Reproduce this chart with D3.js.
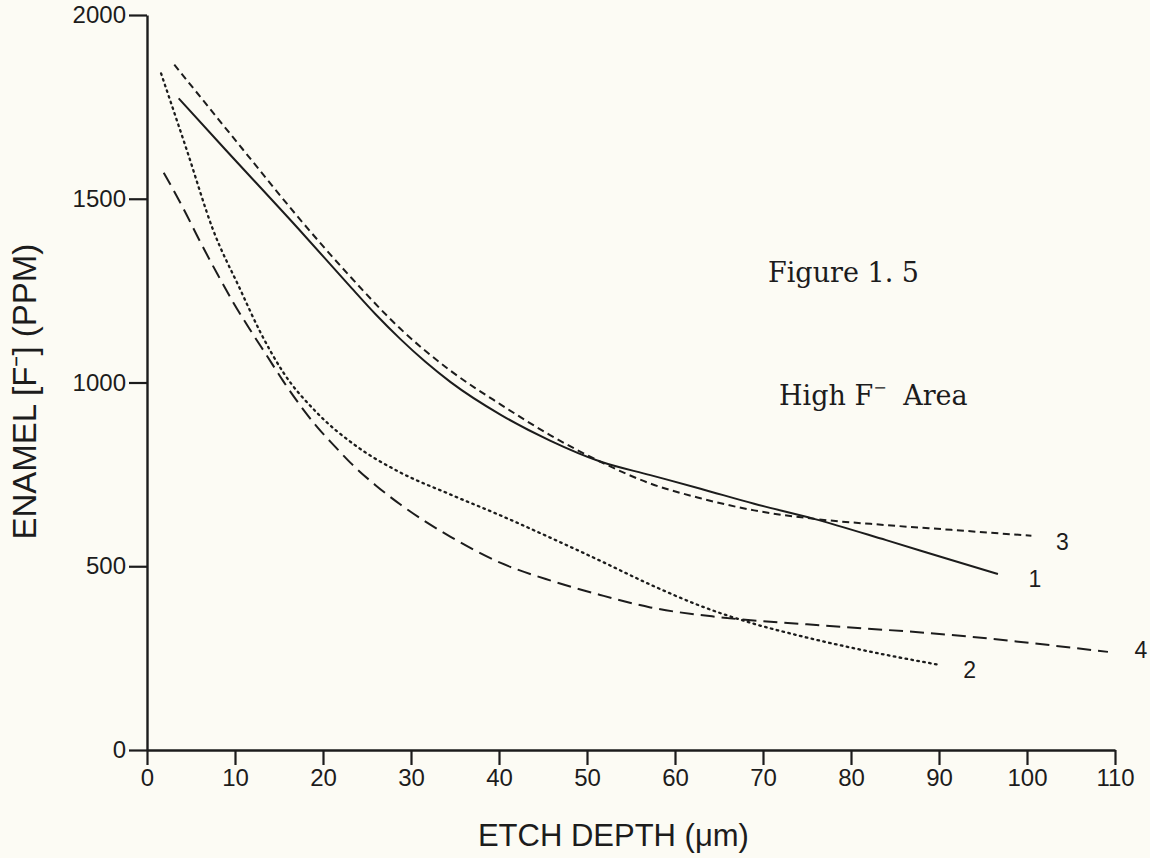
<!DOCTYPE html>
<html>
<head>
<meta charset="utf-8">
<script src="https://cdn.jsdelivr.net/npm/d3@7/dist/d3.min.js"></script>
<style>
  html, body { margin: 0; padding: 0; background: #fcfbf4; }
  svg { display: block; }
</style>
</head>
<body>
<svg id="chart" width="1150" height="858"></svg>
<script>
// ---- Data ----
const xTicks = [0, 10, 20, 30, 40, 50, 60, 70, 80, 90, 100, 110];
const yTicks = [0, 500, 1000, 1500, 2000];

// Curve 1 (solid)
const curve1 = [
  [3.6, 1773], [8.9, 1634], [17.1, 1421], [23.1, 1261], [26, 1185],
  [28.8, 1118], [31.6, 1057], [34.5, 1001], [40.2, 912], [45.8, 842],
  [51.5, 785], [57.2, 748], [62.9, 711], [69, 670], [75.8, 629],
  [84, 571], [91.4, 517], [96.7, 479]
];
// Curve 2 (dotted)
const curve2 = [
  [1.6, 1841], [4.5, 1634], [7.5, 1416], [10.6, 1253], [12.9, 1136],
  [15.5, 1027], [19.3, 918], [23.9, 825], [28.8, 755], [34.5, 695],
  [40.2, 638], [45.8, 578], [51.5, 515], [57.2, 450], [62.9, 392],
  [68.6, 346], [74.3, 310], [82.3, 267], [90.2, 231]
];
// Curve 3 (short dashes)
const curve3 = [
  [3.1, 1865], [10.9, 1634], [17.1, 1452], [23.1, 1288], [28.8, 1146],
  [34.5, 1032], [40.2, 940], [45.8, 857], [51.9, 780], [57.2, 725],
  [62.9, 685], [69, 652], [75.8, 629], [84, 612], [91.4, 599], [100.5, 583]
];
// Curve 4 (long dashes)
const curve4 = [
  [1.9, 1571], [4.1, 1475], [6.0, 1385], [8.0, 1295], [9.8, 1218],
  [11.7, 1144], [13.7, 1070], [15.5, 1003], [17.4, 938], [19.3, 880],
  [21.4, 825], [23.1, 782], [26, 720], [28.8, 668], [34.5, 580],
  [40.2, 509], [46, 460], [51.5, 422], [57.2, 388], [64.8, 362],
  [75, 342], [91.4, 313], [109.2, 267]
];

const seriesNames = ["1", "2", "3", "4"];
const seriesData = [curve1, curve2, curve3, curve4];
const seriesDash = ["none", "1.6 4.4", "7 4.5", "14 7"];

// ---- Layout ----
const svg = d3.select("#chart");
const ink = "#1c1c1c";
const sans = "'Liberation Sans', Arial, Helvetica, sans-serif";
const x = d3.scaleLinear().domain([0, 110]).range([147, 1115]);
const y = d3.scaleLinear().domain([0, 2000]).range([750, 15]);

svg.append("rect").attr("width", 1150).attr("height", 858).attr("fill", "#fcfbf4");

// Y axis
const yAxis = svg.append("g")
  .attr("transform", `translate(${x(0)},0)`)
  .call(d3.axisLeft(y).tickValues(yTicks).tickSize(18).tickSizeOuter(0).tickPadding(3).tickFormat(d3.format("d")));
yAxis.select(".domain").attr("stroke", ink).attr("stroke-width", 2.4);
yAxis.selectAll(".tick line").attr("stroke", ink).attr("stroke-width", 2.2);
yAxis.selectAll(".tick text")
  .attr("fill", ink).style("font-family", sans).style("font-size", "24px");

// X axis
const xAxis = svg.append("g")
  .attr("transform", `translate(0,${y(0)})`)
  .call(d3.axisBottom(x).tickValues(xTicks).tickSize(15).tickSizeOuter(0).tickPadding(4).tickFormat(d3.format("d")));
xAxis.select(".domain").attr("stroke", ink).attr("stroke-width", 2.4);
xAxis.selectAll(".tick line").attr("stroke", ink).attr("stroke-width", 2.2);
xAxis.selectAll(".tick text")
  .attr("fill", ink).style("font-family", sans).style("font-size", "24px");

// Axis titles
svg.append("text")
  .attr("x", x(53)).attr("y", 846)
  .attr("text-anchor", "middle")
  .attr("fill", ink)
  .style("font-family", sans).style("font-size", "31px")
  .text("ETCH DEPTH (\u03BCm)");

svg.append("text")
  .attr("transform", `translate(36,${y(975)}) rotate(-90)`)
  .attr("text-anchor", "middle")
  .attr("fill", ink)
  .style("font-family", sans).style("font-size", "33px")
  .text("ENAMEL [F\u207B] (PPM)");

// Curves
const line = d3.line()
  .x(d => x(d[0])).y(d => y(d[1]))
  .curve(d3.curveMonotoneX);

svg.append("g").selectAll("path")
  .data(seriesData)
  .join("path")
  .attr("d", d => line(d))
  .attr("fill", "none")
  .attr("stroke", ink)
  .attr("stroke-width", (d, i) => i === 1 ? 2.3 : 2)
  .attr("stroke-linecap", (d, i) => i === 1 ? "round" : "butt")
  .attr("stroke-dasharray", (d, i) => seriesDash[i]);

// Curve labels (placed just right of each curve's end)
const labelOffset = [[37, 7], [29, 7], [31, 8], [33, 0]];
svg.append("g").selectAll("text")
  .data(seriesData)
  .join("text")
  .attr("x", (d, i) => x(d[d.length - 1][0]) + labelOffset[i][0])
  .attr("y", (d, i) => y(d[d.length - 1][1]) + labelOffset[i][1])
  .attr("text-anchor", "middle")
  .attr("dominant-baseline", "middle")
  .attr("fill", ink)
  .style("font-family", sans).style("font-size", "23px")
  .text((d, i) => seriesNames[i]);

// Annotations
const serif = "'DejaVu Serif', 'Liberation Serif', serif";
svg.append("text")
  .attr("x", 768).attr("y", 282)
  .attr("fill", ink)
  .style("font-family", serif).style("font-size", "27px")
  .text("Figure 1. 5");

const hi = svg.append("text")
  .attr("x", 779).attr("y", 405)
  .attr("fill", ink)
  .style("font-family", serif).style("font-size", "27px");
hi.append("tspan").text("High F");
hi.append("tspan").attr("dy", -12).style("font-size", "16px").text("\u2212");
hi.append("tspan").attr("dy", 12).attr("dx", 8).text(" Area");
</script>
</body>
</html>
